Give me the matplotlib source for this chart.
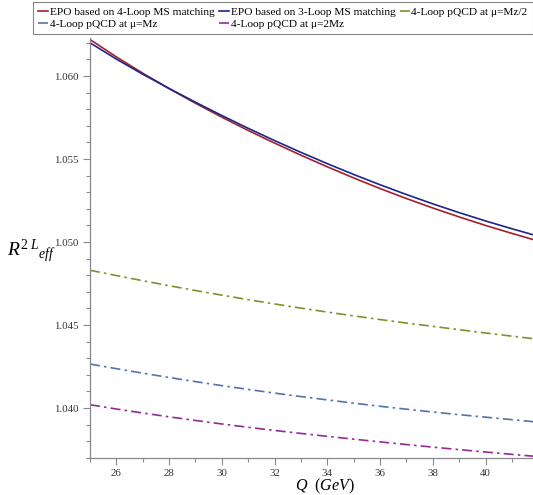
import numpy as np
import matplotlib
matplotlib.use("Agg")
import matplotlib.pyplot as plt
from matplotlib.ticker import MultipleLocator, FormatStrFormatter

Q = [25, 26, 27, 28, 29, 30, 31, 32, 33, 34, 35, 36, 37, 38, 39, 40, 41, 41.8]
epo4 = [1.06220, 1.06115, 1.06017, 1.05924, 1.05836, 1.05752, 1.05672, 1.05596, 1.05523,
        1.05453, 1.05386, 1.05322, 1.05262, 1.05205, 1.05151, 1.05100, 1.05052, 1.05015]
epo3 = [1.06200, 1.06102, 1.06011, 1.05925, 1.05842, 1.05762, 1.05685, 1.05611, 1.05540,
        1.05472, 1.05407, 1.05345, 1.05286, 1.05230, 1.05177, 1.05127, 1.05080, 1.05044]
pqcd_half = [1.04830, 1.04798, 1.04767, 1.04737, 1.04708, 1.04680, 1.04653, 1.04627, 1.04602,
             1.04578, 1.04555, 1.04533, 1.04512, 1.04492, 1.04472, 1.04452, 1.04433, 1.04418]
pqcd_mz = [1.04265, 1.04237, 1.04210, 1.04184, 1.04159, 1.04135, 1.04112, 1.04090, 1.04069,
           1.04049, 1.040295, 1.040105, 1.03993, 1.03976, 1.03960, 1.03945, 1.03930, 1.03918]
pqcd_2mz = [1.04020, 1.03994, 1.03970, 1.03947, 1.03925, 1.03904, 1.03884, 1.03865, 1.03847,
            1.038295, 1.038125, 1.03796, 1.03780, 1.037645, 1.037495, 1.03735, 1.03721, 1.03710]

labels = ["EPO based on 4-Loop MS matching", "EPO based on 3-Loop MS matching",
          "4-Loop pQCD at \u03bc=Mz/2", "4-Loop pQCD at \u03bc=Mz", "4-Loop pQCD at \u03bc=2Mz"]

plt.rcParams['font.family'] = ['Liberation Serif', 'DejaVu Serif']
plt.rcParams['mathtext.fontset'] = 'custom'
plt.rcParams['mathtext.it'] = 'Liberation Serif:italic'
plt.rcParams['mathtext.rm'] = 'Liberation Serif'

W, H = 533, 495
fig = plt.figure(figsize=(W/100, H/100), dpi=100)
ax = fig.add_axes([90/W, 1 - 458/H, (W - 90)/W, (458 - 38)/H])

dd = (6, 2.5, 1.5, 2.5)
h1, = ax.plot(Q, epo4, color='#a3202a', lw=1.2)
h2, = ax.plot(Q, epo3, color='#1c2590', lw=1.2)
h3, = ax.plot(Q, pqcd_half, color='#7a9428', lw=1.2, dashes=dd)
h4, = ax.plot(Q, pqcd_mz, color='#5473ad', lw=1.2, dashes=dd)
h5, = ax.plot(Q, pqcd_2mz, color='#952a95', lw=1.2, dashes=dd)

ax.set_xlim(25, 41.8)
ax.set_ylim(1.03699, 1.06229)

for s in ['top', 'right']:
    ax.spines[s].set_visible(False)
for s in ['left', 'bottom']:
    ax.spines[s].set_color('#888888')
    ax.spines[s].set_linewidth(0.9)

ax.xaxis.set_major_locator(MultipleLocator(2))
ax.xaxis.set_minor_locator(MultipleLocator(1))
ax.yaxis.set_major_locator(MultipleLocator(0.005))
ax.yaxis.set_minor_locator(MultipleLocator(0.001))
ax.yaxis.set_major_formatter(FormatStrFormatter('%.3f'))
ax.tick_params(which='major', length=5, width=0.8, color='#888888', labelsize=7.8,
               labelcolor='#333333', pad=3)
ax.tick_params(which='minor', length=3, width=0.8, color='#888888')

fig.text(325/W, 1 - 486.5/H, r'$Q\ \ (GeV)$', ha='center', va='center', fontsize=11.5)
fig.text(31/W, 1 - 251/H, r'$R^{2\ L}{}_{eff}$', ha='center', va='center', fontsize=14)

handles = [h1, h4, h2, h5, h3]
labs = [labels[0], labels[3], labels[1], labels[4], labels[2]]
leg = fig.legend(handles, labs, ncol=3, loc='upper left', bbox_to_anchor=(33/W, 1 - 2/H),
                 fontsize=8.2, handlelength=0.9, handletextpad=0.15, columnspacing=0.35,
                 labelspacing=0.2, borderpad=0.45, borderaxespad=0, frameon=True,
                 fancybox=False)
leg.get_frame().set_edgecolor('#666666')
leg.get_frame().set_linewidth(0.8)

fig.savefig('out.png', dpi=100)
